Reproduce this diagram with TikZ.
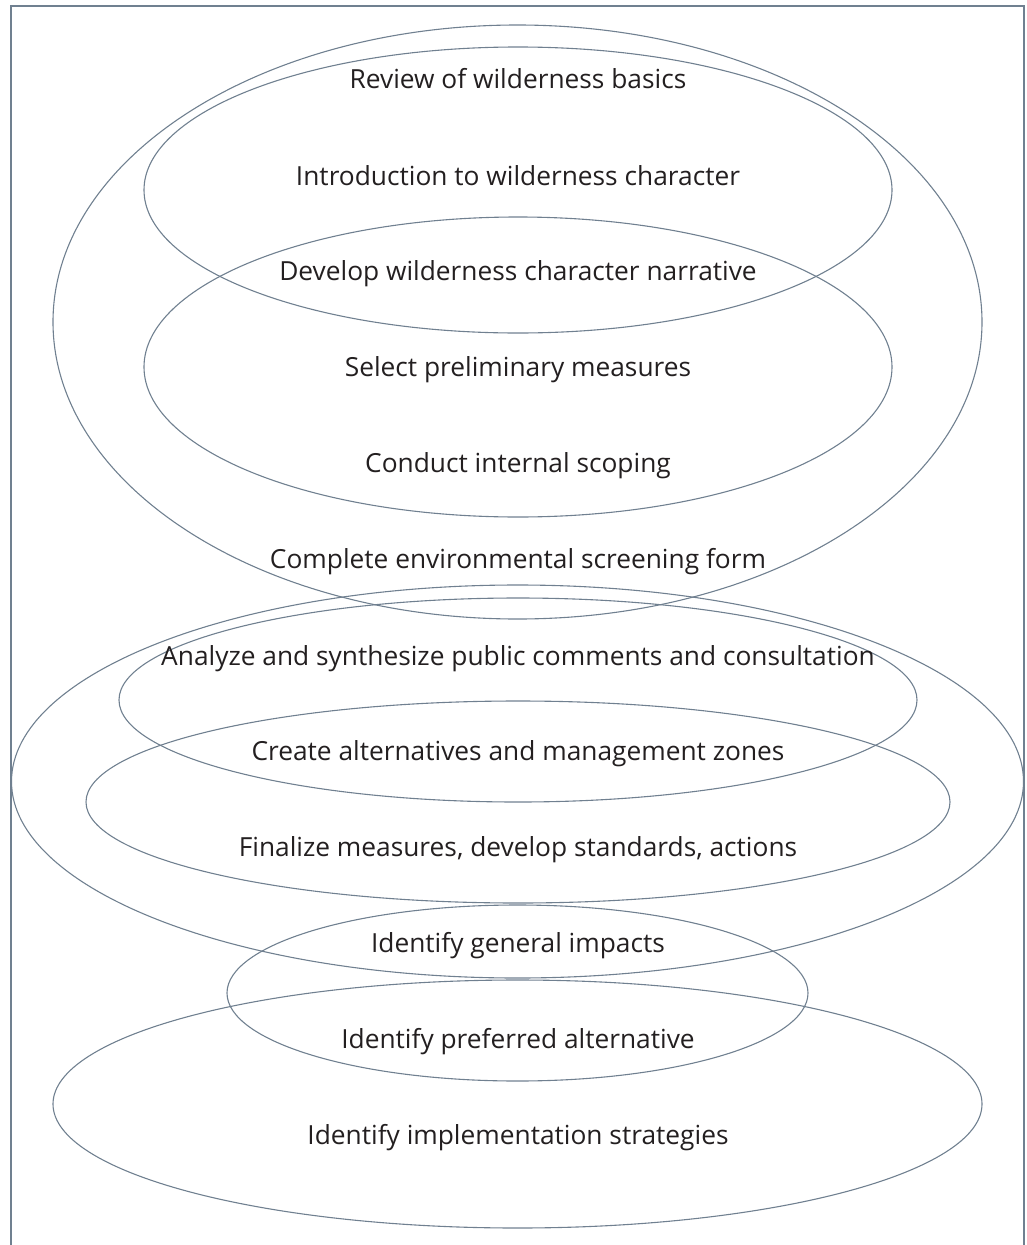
\documentclass[tikz,border=0pt]{standalone}
\usepackage{fontspec}
\setmainfont{Open Sans}
\definecolor{rim}{RGB}{112,128,144}
\definecolor{ink}{RGB}{35,31,32}
\begin{document}
\begin{tikzpicture}[x=1pt,y=-1pt,
    ring/.style={draw=rim, line width=1.1pt},
    task/.style={anchor=base, text=ink, inner sep=0pt,
      font=\fontsize{26.3}{30}\selectfont}]
\useasboundingbox (0,0) rectangle (1026,1245);
% open frame
\draw[ring] (11,1245) -- (11,6) -- (1024,6) -- (1024,1245);

% upper group
\draw[ring] (517.5,322) ellipse [x radius=464.5, y radius=297];
\draw[ring] (518,190) ellipse [x radius=374, y radius=143];
\draw[ring] (518,367) ellipse [x radius=374, y radius=150];

% middle group
\draw[ring] (517.5,781.5) ellipse [x radius=506, y radius=196.5];
\draw[ring] (518,700) ellipse [x radius=399, y radius=102];
\draw[ring] (518,802) ellipse [x radius=432, y radius=101];

% lower group
\draw[ring] (517.5,993) ellipse [x radius=290.5, y radius=88];
\draw[ring] (517.5,1104) ellipse [x radius=464.5, y radius=124];

\node[task] (basics)     at (518,88.5)   {Review of wilderness basics};
\node[task] (intro)      at (518,185.5)  {Introduction to wilderness character};
\node[task] (narrative)  at (518,280.5)  {Develop wilderness character narrative};
\node[task] (measures)   at (518,376.5)  {Select preliminary measures};
\node[task] (scoping)    at (518,472.5)  {Conduct internal scoping};
\node[task] (screening)  at (518,568.5)  {Complete environmental screening form};
\node[task] (comments)   at (518,665.5)  {Analyze and synthesize public comments and consultation};
\node[task] (zones)      at (518,760.5)  {Create alternatives and management zones};
\node[task] (standards)  at (518,856.5)  {Finalize measures, develop standards, actions};
\node[task] (impacts)    at (518,952.5)  {Identify general impacts};
\node[task] (preferred)  at (518,1048.5) {Identify preferred alternative};
\node[task] (strategies) at (518,1144.5) {Identify implementation strategies};
\end{tikzpicture}
\end{document}
